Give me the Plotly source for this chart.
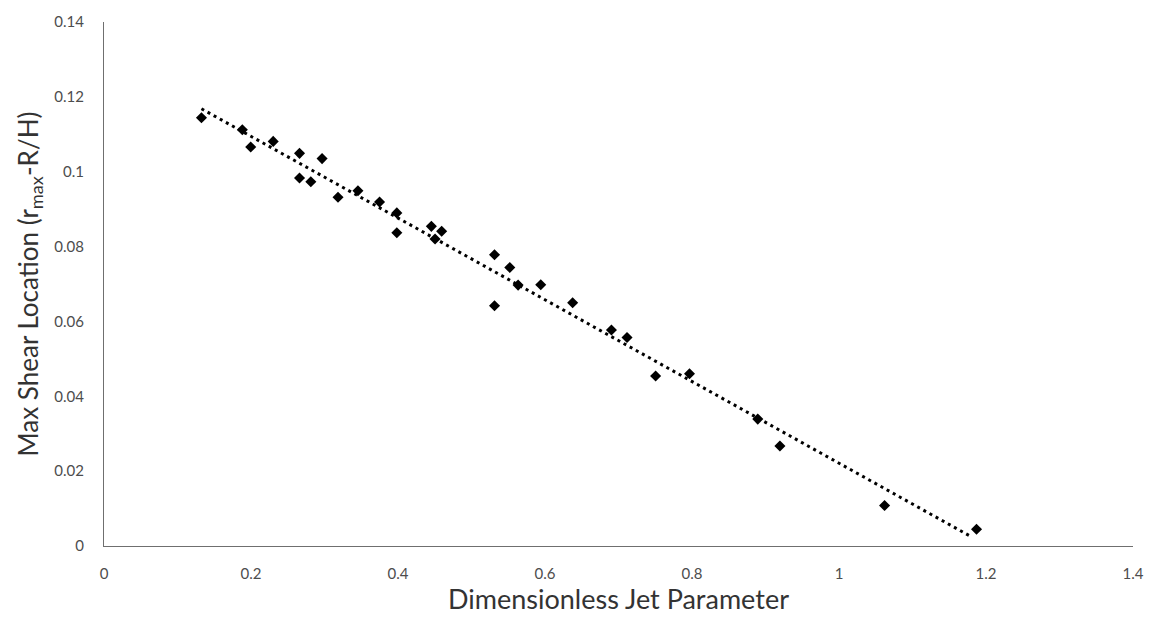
import numpy as np
import plotly.graph_objects as go

# Dimensionless jet parameter vs. max shear location
jet_param = [0.1326, 0.1882, 0.1996, 0.2302, 0.2660, 0.2967, 0.2660, 0.2814,
             0.3184, 0.3455, 0.3749, 0.3984, 0.3984, 0.4454, 0.4594, 0.4504,
             0.5313, 0.5521, 0.5634, 0.5942, 0.5313, 0.6376, 0.6904, 0.7116,
             0.7505, 0.7966, 0.8895, 0.9196, 1.0620, 1.1871]
shear_loc = [0.1144, 0.1112, 0.1066, 0.1081, 0.1049, 0.1035, 0.0983, 0.0973,
             0.0932, 0.0949, 0.0919, 0.0890, 0.0837, 0.0854, 0.0841, 0.0820,
             0.0778, 0.0744, 0.0697, 0.0698, 0.0642, 0.0650, 0.0577, 0.0557,
             0.0454, 0.0460, 0.0339, 0.0267, 0.0108, 0.0045]

x_ticks = [0, 0.2, 0.4, 0.6, 0.8, 1, 1.2, 1.4]
x_tick_text = ["0", "0.2", "0.4", "0.6", "0.8", "1", "1.2", "1.4"]
y_ticks = [0, 0.02, 0.04, 0.06, 0.08, 0.1, 0.12, 0.14]
y_tick_text = ["0", "0.02", "0.04", "0.06", "0.08", "0.1", "0.12", "0.14"]

# Linear trendline through the data
slope, intercept = np.polyfit(jet_param, shear_loc, 1)
trend_x = np.array([min(jet_param), 1.1803])
trend_y = slope * trend_x + intercept

fig = go.Figure()
fig.add_trace(go.Scatter(
    x=trend_x, y=trend_y, mode="lines",
    line=dict(color="black", width=3, dash="3px,4px"),
    showlegend=False, hoverinfo="skip",
))
fig.add_trace(go.Scatter(
    x=jet_param, y=shear_loc, mode="markers",
    marker=dict(symbol="diamond", color="black", size=8.5),
    showlegend=False,
))

font_family = "Lato, 'Open Sans', sans-serif"
fig.update_layout(
    width=1156, height=617,
    margin=dict(l=104, r=19, t=17, b=70),
    paper_bgcolor="white", plot_bgcolor="white",
    font=dict(family=font_family, color="#404040"),
    xaxis=dict(
        range=[0, 1.4], tickvals=x_ticks, ticktext=x_tick_text,
        showgrid=False, zeroline=False, showline=True,
        linecolor="#6f6f6f", linewidth=1.2,
        tickfont=dict(size=15, color="#4d4d4d"), ticks="",
        ticklabelstandoff=14,
        title=dict(text="Dimensionless Jet Parameter",
                   font=dict(size=27, color="#333333"), standoff=4),
    ),
    yaxis=dict(
        range=[0, 0.14], tickvals=y_ticks, ticktext=y_tick_text,
        showgrid=False, zeroline=False, showline=True,
        linecolor="#6f6f6f", linewidth=1.2,
        tickfont=dict(size=15, color="#4d4d4d"), ticks="",
        ticklabelstandoff=16,
        title=dict(text="Max Shear Location (r<sub>max</sub>-R/H)",
                   font=dict(size=26, color="#333333"), standoff=8),
    ),
)

fig.write_html("out.html")
